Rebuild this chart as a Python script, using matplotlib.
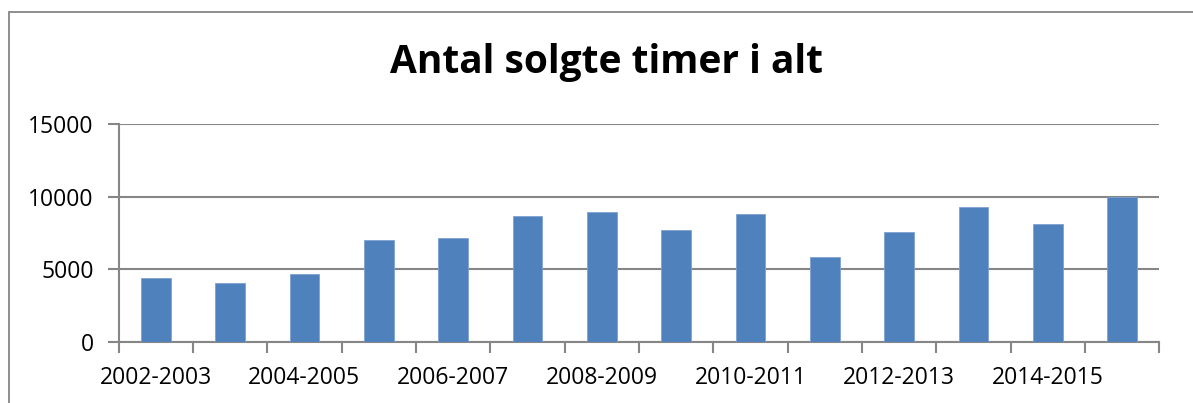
import matplotlib
matplotlib.use("Agg")
from matplotlib import pyplot as plt
from matplotlib.patches import Rectangle
import numpy as np

seasons = ["2002-2003", "2003-2004", "2004-2005", "2005-2006", "2006-2007",
           "2007-2008", "2008-2009", "2009-2010", "2010-2011", "2011-2012",
           "2012-2013", "2013-2014", "2014-2015", "2015-2016"]
hours = [4440, 4050, 4710, 7000, 7130, 8670, 8940, 7680, 8830, 5850,
         7550, 9280, 8100, 10000]
y_ticks = [0, 5000, 10000, 15000]

bar_color = "#4F81BD"
grid_color = "#868686"

plt.rcParams["font.family"] = ["Open Sans", "DejaVu Sans"]

fig = plt.figure(figsize=(11.93, 4.03), dpi=100)
ax = fig.add_axes([0.0994, 0.1506, 0.8724, 0.5425])

# chart area border (runs off the right and bottom of the picture)
fig.patches.append(Rectangle((8.5 / 1193, -0.1), 1.2, 1.1 - 12 / 403,
                             transform=fig.transFigure, fill=False,
                             edgecolor=grid_color, linewidth=1.3))

x = np.arange(len(seasons))
ax.bar(x, hours, width=0.4, color=bar_color, edgecolor="#7FA2D0",
       linewidth=0.6, zorder=3)

ax.set_xlim(-0.5, len(seasons) - 0.5)
ax.set_ylim(0, 15000)
ax.set_yticks(y_ticks)
ax.set_yticklabels([str(v) for v in y_ticks], fontsize=16.5)
ax.yaxis.grid(True, color=grid_color, linewidth=1.5, zorder=0)

ax.set_xticks(np.arange(-0.5, len(seasons)), labels=[""] * (len(seasons) + 1))
ax.set_xticks(x[::2], labels=seasons[::2], minor=True, fontsize=16.5)
ax.tick_params(axis="x", which="minor", length=0, pad=17)
ax.tick_params(axis="x", which="major", length=8, width=1.5, color=grid_color)
ax.tick_params(axis="y", length=8, width=1.5, color=grid_color, pad=10)

for side in ["top", "right"]:
    ax.spines[side].set_visible(False)
for side in ["left", "bottom"]:
    ax.spines[side].set_color(grid_color)
    ax.spines[side].set_linewidth(1.5)

fig.text(0.5 * (386 + 828) / 1193, 1 - 62 / 403, "Antal solgte timer i alt",
         ha="center", va="center", fontsize=28, fontweight="bold")

fig.savefig("out.png", dpi=100)
